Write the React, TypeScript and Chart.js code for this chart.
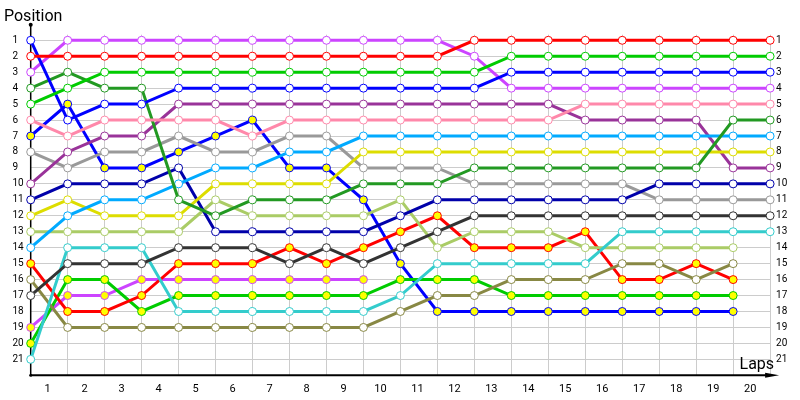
import React, { useEffect, useRef } from "react";
import { Chart, registerables } from "chart.js";

Chart.register(...registerables);

const laps = [0, 1, 2, 3, 4, 5, 6, 7, 8, 9, 10, 11, 12, 13, 14, 15, 16, 17, 18, 19, 20];
const lapLabels = ["1", "2", "3", "4", "5", "6", "7", "8", "9", "10", "11", "12", "13", "14", "15", "16", "17", "18", "19", "20"];
const positionTicks = [1, 2, 3, 4, 5, 6, 7, 8, 9, 10, 11, 12, 13, 14, 15, 16, 17, 18, 19, 20, 21];

const violet = [3, 1, 1, 1, 1, 1, 1, 1, 1, 1, 1, 1, 2, 4, 4, 4, 4, 4, 4, 4, 4];
const red = [2, 2, 2, 2, 2, 2, 2, 2, 2, 2, 2, 2, 1, 1, 1, 1, 1, 1, 1, 1, 1];
const green = [5, 4, 3, 3, 3, 3, 3, 3, 3, 3, 3, 3, 3, 2, 2, 2, 2, 2, 2, 2, 2];
const blue = [1, 6, 5, 5, 4, 4, 4, 4, 4, 4, 4, 4, 4, 3, 3, 3, 3, 3, 3, 3, 3];
const purple = [10, 8, 7, 7, 5, 5, 5, 5, 5, 5, 5, 5, 5, 5, 5, 6, 6, 6, 6, 9, 9];
const pink = [6, 7, 6, 6, 6, 6, 7, 6, 6, 6, 6, 6, 6, 6, 6, 5, 5, 5, 5, 5, 5];
const blueY = [7, 5, 9, 9, 8, 7, 6, 9, 9, 11, 15, 18, 18, 18, 18, 18, 18, 18, 18, 18, null];
const gray = [8, 9, 8, 8, 7, 8, 8, 7, 7, 9, 9, 9, 10, 10, 10, 10, 10, 11, 11, 11, 11];
const lightBlue = [14, 12, 11, 11, 10, 9, 9, 8, 8, 7, 7, 7, 7, 7, 7, 7, 7, 7, 7, 7, 7];
const yellow = [12, 11, 12, 12, 12, 10, 10, 10, 10, 8, 8, 8, 8, 8, 8, 8, 8, 8, 8, 8, 8];
const darkGreen = [4, 3, 4, 4, 11, 12, 11, 11, 11, 10, 10, 10, 9, 9, 9, 9, 9, 9, 9, 6, 6];
const navy = [11, 10, 10, 10, 9, 13, 13, 13, 13, 13, 12, 11, 11, 11, 11, 11, 11, 10, 10, 10, 10];
const lightGreen = [13, 13, 13, 13, 13, 11, 12, 12, 12, 12, 11, 14, 13, 13, 13, 14, 14, 14, 14, 14, null];
const darkGray = [17, 15, 15, 15, 14, 14, 14, 15, 14, 15, 14, 13, 12, 12, 12, 12, 12, 12, 12, 12, 12];
const redY = [15, 18, 18, 17, 15, 15, 15, 14, 15, 14, 13, 12, 14, 14, 14, 13, 16, 16, 15, 16, null];
const violetY = [19, 17, 17, 16, 16, 16, 16, 16, 16, 16, null, null, null, null, null, null, null, null, null, null, null];
const greenY = [20, 16, 16, 18, 17, 17, 17, 17, 17, 17, 16, 16, 16, 17, 17, 17, 17, 17, 17, 17, null];
const cyan = [21, 14, 14, 14, 18, 18, 18, 18, 18, 18, 17, 15, 15, 15, 15, 15, 13, 13, 13, 13, 13];
const olive = [16, 19, 19, 19, 19, 19, 19, 19, 19, 19, 18, 17, 17, 16, 16, 16, 15, 15, 16, 15, null];

const seriesList: { values: (number | null)[]; color: string; pit: boolean }[] = [
  { values: red, color: "#ff0000", pit: false },
  { values: green, color: "#00cc00", pit: false },
  { values: blue, color: "#0000ff", pit: false },
  { values: violet, color: "#cc44ff", pit: false },
  { values: pink, color: "#ff88aa", pit: false },
  { values: darkGreen, color: "#229922", pit: false },
  { values: lightBlue, color: "#00aaff", pit: false },
  { values: yellow, color: "#dddd00", pit: false },
  { values: purple, color: "#993399", pit: false },
  { values: navy, color: "#0000aa", pit: false },
  { values: gray, color: "#999999", pit: false },
  { values: darkGray, color: "#333333", pit: false },
  { values: cyan, color: "#33cccc", pit: false },
  { values: lightGreen, color: "#aacc66", pit: false },
  { values: olive, color: "#888844", pit: false },
  { values: redY, color: "#ff0000", pit: true },
  { values: greenY, color: "#00cc00", pit: true },
  { values: blueY, color: "#0000ff", pit: true },
  { values: violetY, color: "#cc44ff", pit: true },
];

const decorPlugin = {
  id: "decor",
  beforeDatasetsDraw(chart: any) {
    const { ctx, scales } = chart;
    const x0 = scales.x.getPixelForValue(0);
    const xEnd = scales.x.right;
    const yBottom = scales.y.getPixelForValue(22);
    const yTop = scales.y.top - 10;
    ctx.save();
    ctx.strokeStyle = "#000";
    ctx.fillStyle = "#000";
    ctx.lineWidth = 1.5;
    ctx.beginPath();
    ctx.moveTo(x0, yBottom);
    ctx.lineTo(x0, yTop);
    ctx.stroke();
    ctx.beginPath();
    ctx.arc(x0, yTop, 2, 0, Math.PI * 2);
    ctx.fill();
    ctx.lineWidth = 2;
    ctx.beginPath();
    ctx.moveTo(x0, yBottom);
    ctx.lineTo(xEnd - 4, yBottom);
    ctx.stroke();
    ctx.beginPath();
    ctx.moveTo(xEnd - 5, yBottom - 2.5);
    ctx.lineTo(xEnd + 9, yBottom);
    ctx.lineTo(xEnd - 5, yBottom + 2.5);
    ctx.closePath();
    ctx.fill();
    ctx.beginPath();
    ctx.arc(x0, yBottom, 1.5, 0, Math.PI * 2);
    ctx.fill();
    ctx.restore();
  },
  afterDraw(chart: any) {
    const { ctx, scales } = chart;
    ctx.save();
    ctx.fillStyle = "#000";
    ctx.font = "16px Roboto";
    ctx.textAlign = "left";
    ctx.textBaseline = "alphabetic";
    ctx.fillText("Position", 4, 21);
    ctx.textAlign = "right";
    ctx.fillText("Laps", scales.x.right + 4, scales.y.getPixelForValue(22) - 6);
    ctx.restore();
  },
};

export default function App() {
  const canvasRef = useRef<HTMLCanvasElement | null>(null);

  useEffect(() => {
    document.body.style.margin = "0";
    const canvas = canvasRef.current;
    if (!canvas) return;

    const datasets = seriesList.map((s) => ({
      data: s.values.map((v, i) => ({ x: laps[i], y: v })),
      borderColor: s.color,
      backgroundColor: s.color,
      borderWidth: 3,
      pointRadius: 4,
      pointHoverRadius: 4,
      pointBorderWidth: 1,
      pointBorderColor: s.color,
      pointBackgroundColor: s.pit ? "#ffff00" : "#ffffff",
      tension: 0,
      spanGaps: false,
      clip: false as any,
    }));

    const chart = new Chart(canvas, {
      type: "line",
      data: { datasets },
      plugins: [decorPlugin],
      options: {
        animation: false,
        responsive: false,
        layout: { padding: { left: 12.5, top: 34.7, right: 0, bottom: 0 } },
        plugins: { legend: { display: false }, tooltip: { enabled: false } },
        scales: {
          x: {
            type: "linear",
            position: "bottom",
            min: 0,
            max: 20,
            bounds: "data",
            ticks: { display: false, stepSize: 1 },
            afterBuildTicks: (scale: any) => {
              scale.ticks = laps.map((v) => ({ value: v }));
            },
            afterFit: (scale: any) => {
              scale.height = 0;
            },
            grid: { color: "#cccccc", lineWidth: 1, drawTicks: false },
            border: { display: false },
          },
          xl: {
            type: "linear",
            position: "bottom",
            min: 0,
            max: 20,
            bounds: "data",
            afterBuildTicks: (scale: any) => {
              scale.ticks = lapLabels.map((_, i) => ({ value: i + 0.46 }));
            },
            ticks: {
              autoSkip: false,
              maxRotation: 0,
              padding: 7,
              color: "#000",
              font: { family: "Roboto", size: 11 },
              callback: (_v: any, i: number) => lapLabels[i],
            },
            afterFit: (scale: any) => {
              scale.height = 24.7;
            },
            grid: { display: false, drawTicks: false },
            border: { display: false },
          },
          y: {
            type: "linear",
            position: "left",
            reverse: true,
            min: 0.65,
            max: 22,
            bounds: "data",
            afterBuildTicks: (scale: any) => {
              scale.ticks = positionTicks.map((v) => ({ value: v }));
            },
            ticks: {
              autoSkip: false,
              crossAlign: "far",
              padding: 0,
              color: "#000",
              font: { family: "Roboto", size: 10 },
              callback: (v: any) => String(v),
            },
            afterFit: (scale: any) => {
              scale.width = 18.2;
            },
            grid: { color: "#cccccc", lineWidth: 1, drawTicks: false },
            border: { display: false },
          },
          y2: {
            type: "linear",
            position: "right",
            reverse: true,
            min: 0.65,
            max: 22,
            bounds: "data",
            afterBuildTicks: (scale: any) => {
              scale.ticks = positionTicks.map((v) => ({ value: v }));
            },
            ticks: {
              autoSkip: false,
              crossAlign: "near",
              padding: 6,
              color: "#000",
              font: { family: "Roboto", size: 10 },
              callback: (v: any) => String(v),
            },
            afterFit: (scale: any) => {
              scale.width = 29.9;
            },
            grid: { display: false, drawTicks: false },
            border: { display: false },
          },
        },
      } as any,
    });

    return () => chart.destroy();
  }, []);

  return (
    <div style={{ width: 800, height: 400 }}>
      <canvas ref={canvasRef} width={800} height={400} />
    </div>
  );
}
